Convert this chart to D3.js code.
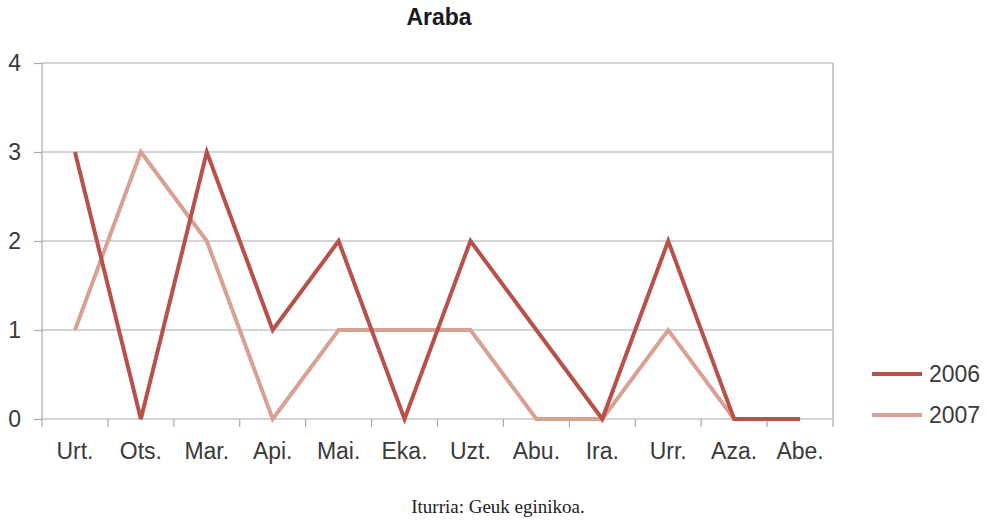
<!DOCTYPE html>
<html>
<head>
<meta charset="utf-8">
<script src="https://cdn.jsdelivr.net/npm/d3@7"></script>
<style>
  body { margin: 0; background: #fff; }
  svg { display: block; }
</style>
</head>
<body>
<svg width="987" height="521"></svg>
<script>
// Chart data
const months = ['Urt.', 'Ots.', 'Mar.', 'Api.', 'Mai.', 'Eka.', 'Uzt.', 'Abu.', 'Ira.', 'Urr.', 'Aza.', 'Abe.'];
const values2006 = [3, 0, 3, 1, 2, 0, 2, 1, 0, 2, 0, 0];
const values2007 = [1, 3, 2, 0, 1, 1, 1, 0, 0, 1, 0, 0];
const yTicks = [0, 1, 2, 3, 4];

const series = [
  { name: '2006', values: values2006, color: '#b9514b' },
  { name: '2007', values: values2007, color: '#d9a194' }
];

const svg = d3.select('svg');
const margin = { top: 63, left: 42, right: 154, bottom: 102 };
const width = +svg.attr('width');
const height = +svg.attr('height');
const innerWidth = width - margin.left - margin.right;
const innerHeight = height - margin.top - margin.bottom;

const labelFont = 'Liberation Sans, Arial, sans-serif';
const labelSize = '23px';
const labelColor = '#3a3a3a';

const xScale = d3.scaleBand().domain(months).range([0, innerWidth]);
const yScale = d3.scaleLinear().domain([0, 4]).range([innerHeight, 0]);

const g = svg.append('g').attr('transform', `translate(${margin.left},${margin.top})`);

// Title
svg.append('text')
  .attr('x', 439)
  .attr('y', 25)
  .attr('text-anchor', 'middle')
  .style('font-family', labelFont)
  .style('font-weight', 'bold')
  .style('font-size', '23px')
  .style('fill', '#1a1a1a')
  .text('Araba');

// Grid lines
g.append('g')
  .selectAll('line')
  .data(yTicks.slice(1))
  .enter()
  .append('line')
  .attr('x1', 0)
  .attr('x2', innerWidth)
  .attr('y1', (d) => yScale(d))
  .attr('y2', (d) => yScale(d))
  .attr('stroke', '#aaa')
  .attr('stroke-width', 1.2);

// right border
g.append('line')
  .attr('x1', innerWidth).attr('x2', innerWidth)
  .attr('y1', 0).attr('y2', innerHeight)
  .attr('stroke', '#aaa').attr('stroke-width', 1.2);

// Left axis
const yAxis = g.append('g').call(d3.axisLeft(yScale).tickValues(yTicks).tickSize(8).tickPadding(13).tickFormat(d3.format('d')));
yAxis.select('.domain').attr('stroke', '#aaa').attr('stroke-width', 1.2).attr('d', `M0,0V${innerHeight}`);
yAxis.selectAll('.tick line').attr('stroke', '#aaa').attr('stroke-width', 1.2);
yAxis.selectAll('text')
  .style('font-family', labelFont)
  .style('font-size', labelSize)
  .style('fill', labelColor);

// Bottom axis, ticks on band edges
const xAxis = g.append('g').attr('transform', `translate(0,${innerHeight})`);
xAxis.append('line')
  .attr('x1', 0).attr('x2', innerWidth)
  .attr('stroke', '#aaa').attr('stroke-width', 1.2);
xAxis.selectAll('.edge')
  .data(months.map((m) => xScale(m)).concat([innerWidth]))
  .enter()
  .append('line')
  .attr('x1', (d) => d).attr('x2', (d) => d)
  .attr('y1', 0).attr('y2', 8)
  .attr('stroke', '#aaa').attr('stroke-width', 1.2);
xAxis.selectAll('.lbl')
  .data(months)
  .enter()
  .append('text')
  .attr('x', (d) => xScale(d) + xScale.bandwidth() / 2)
  .attr('y', 40)
  .attr('text-anchor', 'middle')
  .style('font-family', labelFont)
  .style('font-size', labelSize)
  .style('fill', labelColor)
  .text((d) => d);

// Lines
const line = d3.line()
  .x((d, i) => xScale(months[i]) + xScale.bandwidth() / 2)
  .y((d) => yScale(d));

g.selectAll('.series')
  .data(series.slice().reverse())
  .enter()
  .append('path')
  .attr('d', (d) => line(d.values))
  .attr('fill', 'none')
  .attr('stroke', (d) => d.color)
  .attr('stroke-width', 4)
  .attr('stroke-linejoin', 'miter');

// Legend
const legend = svg.append('g').attr('transform', 'translate(872,374)');
const item = legend.selectAll('g')
  .data(series)
  .enter()
  .append('g')
  .attr('transform', (d, i) => `translate(0,${i * 41})`);
item.append('line')
  .attr('x1', 0).attr('x2', 50)
  .attr('stroke', (d) => d.color)
  .attr('stroke-width', 4);
item.append('text')
  .attr('x', 57)
  .attr('y', 8)
  .style('font-family', labelFont)
  .style('font-size', labelSize)
  .style('fill', labelColor)
  .text((d) => d.name);

// Source note
svg.append('text')
  .attr('x', 498)
  .attr('y', 513)
  .attr('text-anchor', 'middle')
  .style('font-family', 'Liberation Serif, Times New Roman, serif')
  .style('font-size', '19px')
  .style('fill', '#222')
  .text('Iturria: Geuk eginikoa.');
</script>
</body>
</html>
